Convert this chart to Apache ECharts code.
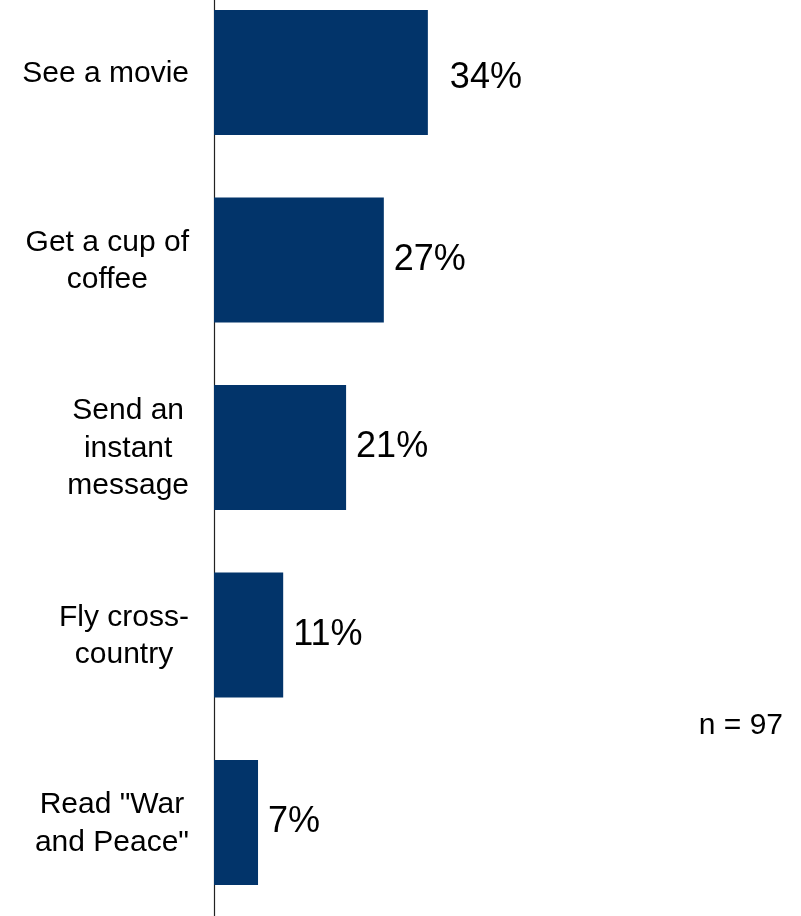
<!DOCTYPE html>
<html>
<head>
<meta charset="utf-8">
<script src="https://cdn.jsdelivr.net/npm/echarts@6/dist/echarts.min.js"></script>
<style>
  html, body { margin: 0; padding: 0; background: #ffffff; }
  #chart { width: 801px; height: 916px; }
</style>
</head>
<body>
<div id="chart"></div>
<script>
// Activities (top to bottom) and share of respondents
const categories = [
  'See a movie',
  'Get a cup of\ncoffee',
  'Send an\ninstant\nmessage',
  'Fly cross-\ncountry',
  'Read "War\nand Peace"'
];
const values = [34, 27, 21, 11, 7];
const sampleNote = 'n = 97';

const FONT = '"Liberation Sans", Arial, sans-serif';
const BAR_COLOR = '#02346a';

const chart = echarts.init(document.getElementById('chart'), null, { renderer: 'canvas' });

const barData = values.map((v, i) => {
  const item = { value: v };
  if (i === 0) {
    item.label = { offset: [12, 6] };
  }
  return item;
});

chart.setOption({
  backgroundColor: '#ffffff',
  animation: false,
  grid: {
    left: 214,
    top: -21.25,
    width: 314.5,
    height: 937.5,
    containLabel: false,
    outerBoundsMode: 'none'
  },
  xAxis: {
    type: 'value',
    min: 0,
    max: 50,
    show: false
  },
  yAxis: {
    type: 'category',
    inverse: true,
    data: categories,
    axisLine: { show: true, lineStyle: { color: '#222222', width: 1.2 } },
    axisTick: { show: false },
    splitLine: { show: false },
    axisLabel: {
      margin: 25,
      color: '#000000',
      fontFamily: FONT,
      fontSize: 30,
      lineHeight: 37.5,
      formatter: function (value) {
        return value.split('\n').map(function (l) { return '{c|' + l + '}'; }).join('\n');
      },
      rich: {
        c: {
          align: 'center',
          color: '#000000',
          fontFamily: FONT,
          fontSize: 30,
          lineHeight: 37.5,
          padding: [2, 0, 0, 0]
        }
      }
    }
  },
  series: [{
    type: 'bar',
    data: barData,
    barCategoryGap: '33.3%',
    itemStyle: { color: BAR_COLOR },
    label: {
      show: true,
      position: 'right',
      distance: 10,
      color: '#000000',
      fontFamily: FONT,
      fontSize: 36,
      formatter: '{c}%'
    }
  }],
  graphic: [{
    type: 'text',
    right: 18,
    top: 711,
    style: {
      text: sampleNote,
      fill: '#000000',
      font: '30px ' + FONT
    }
  }]
});
</script>
</body>
</html>
